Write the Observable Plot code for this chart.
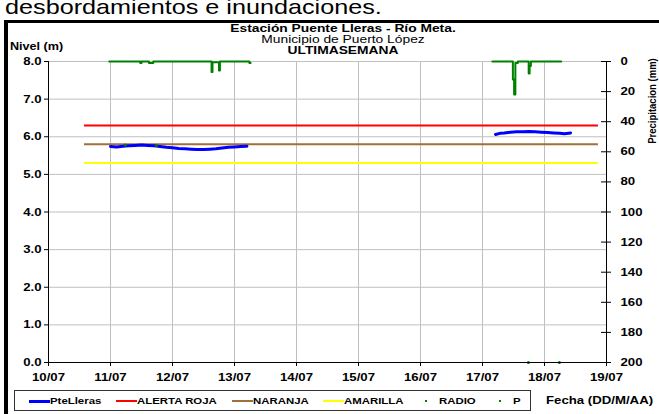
<!DOCTYPE html>
<html>
<head>
<meta charset="utf-8">
<script src="https://cdn.jsdelivr.net/npm/d3@7"></script>
<script src="https://cdn.jsdelivr.net/npm/@observablehq/plot@0.6"></script>
<style>
  body { margin: 0; background: #fff; }
  #wrap { position: relative; width: 659px; height: 414px; overflow: hidden; background: #fff; font-family: "Liberation Sans", Arial, sans-serif; }
  .abs { position: absolute; white-space: nowrap; line-height: 1; }
  .b { font-weight: bold; }
  .sl { transform-origin: 0 50%; transform: scaleX(1.2); }
  .sc { transform: translateX(-50%) scaleX(1.2); }
  #chart { position: absolute; left: 0; top: 0; }
  .legend { position: absolute; left: 14px; top: 390px; width: 515px; height: 19px; border: 1px solid #333; background: #fff; font-size: 9.5px; font-weight: bold; }
  .legend .sw { position: absolute; height: 0; }
  .legend .tx { position: absolute; top: 5px; line-height: 1; transform-origin: 0 50%; transform: scaleX(1.2); white-space: nowrap; }
  .legend .dt { position: absolute; width: 2px; height: 2px; background: #008000; top: 9px; }
</style>
</head>
<body>
<div id="wrap">
  <div class="abs sl" style="left:5px;top:-4px;font-size:21px;">desbordamientos e inundaciones.</div>
  <div class="abs" style="left:4px;top:20px;width:720px;height:500px;border-left:4px solid #000;border-top:3px solid #000;"></div>
  <div id="chart"></div>
  <div class="abs b sc" style="left:343px;top:23px;font-size:11.5px;">Estación Puente Lleras - Río Meta.</div>
  <div class="abs sc" style="left:343px;top:34px;font-size:11.5px;">Municipio de Puerto López</div>
  <div class="abs b sc" style="left:343px;top:45px;font-size:11.5px;">ULTIMASEMANA</div>
  <div class="abs b sl" style="left:10px;top:41px;font-size:10.5px;">Nivel (m)</div>
  <div class="abs b" style="left:652px;top:101px;transform:translate(-50%,-50%) scaleX(1.2) rotate(-90deg);font-size:9.5px;">Precipitacion (mm)</div>
  <div class="legend" id="legend"></div>
  <div class="abs b sl" style="left:546px;top:395px;font-size:11px;">Fecha (DD/M/AA)</div>
</div>
<script>
// ---- data ----
const dayTicks = [10, 11, 12, 13, 14, 15, 16, 17, 18, 19];         // day of July
const levelTicks = [0, 1, 2, 3, 4, 5, 6, 7, 8];                      // Nivel (m)
const precipTicks = [0, 20, 40, 60, 80, 100, 120, 140, 160, 180, 200]; // Precipitacion (mm)

// PteLleras water level (day of July, metres); null = gap in record
const pteDay = [11.0, 11.1, 11.2, 11.3, 11.4, 11.5, 11.6, 11.7, 11.8, 11.9, 12.0, 12.1, 12.2, 12.3, 12.4, 12.5, 12.6, 12.7, 12.8, 12.9, 13.0, 13.1, 13.2,
                13.5,
                17.21, 17.28, 17.35, 17.45, 17.55, 17.65, 17.75, 17.85, 17.95, 18.05, 18.15, 18.25, 18.32, 18.42];
const pteLevel = [5.74, 5.73, 5.75, 5.76, 5.77, 5.78, 5.77, 5.76, 5.74, 5.72, 5.71, 5.69, 5.68, 5.67, 5.66, 5.66, 5.67, 5.68, 5.70, 5.72, 5.73, 5.74, 5.75,
                  null,
                  6.06, 6.09, 6.10, 6.12, 6.13, 6.13, 6.14, 6.13, 6.12, 6.11, 6.10, 6.09, 6.08, 6.10];

// alert thresholds
const thresholdNames = ["ALERTA ROJA", "NARANJA", "AMARILLA"];
const thresholdLevels = [6.3, 5.8, 5.3];
const thresholdColors = ["#ff0000", "#a0703c", "#ffff00"];
const thresholdFrom = 10.58, thresholdTo = 18.87;

// precipitation P (day of July, mm); null = gap
const precipDay = [10.98, 11.46, 11.48, 11.50, 11.60, 11.62, 11.67, 11.69, 12.62, 12.63, 12.645, 12.74, 12.75, 12.765, 13.22, 13.24, 13.26,
                   15.0,
                   17.16, 17.475, 17.49, 17.51, 17.53, 17.55, 17.57, 17.73, 17.745, 17.76, 17.78, 18.27];
const precipMm = [0, 0, 1, 0, 0, 1, 1, 0, 0, 7, 0.5, 0.5, 6, 0, 0, 1, 1,
                  null,
                  0, 0, 12, 22, 1, 1, 0, 0, 8, 3, 0, 0];

// RADIO readings
const radioDay = [11.24, 11.74, 17.74, 18.24];
const radioLevel = [5.78, 5.77, 0, 0];

// ---- build tables ----
const pte = pteDay.map((d, i) => ({day: d, level: pteLevel[i]}));
const thresholds = thresholdNames.map((n, i) => ({name: n, level: thresholdLevels[i], color: thresholdColors[i]}));
const maxLevel = 8, maxPrecip = 200;
const toLevel = mm => maxLevel - mm * maxLevel / maxPrecip;   // inverted right axis
const precip = precipDay.map((d, i) => ({day: d, mm: precipMm[i]}));
const radio = radioDay.map((d, i) => ({day: d, level: radioLevel[i]}));

const chart = Plot.plot({
  width: 659,
  height: 395,
  marginLeft: 48,
  marginRight: 53,
  marginTop: 61,
  marginBottom: 33,
  x: {domain: [10, 19], label: null},
  y: {domain: [0, 8], label: null},
  style: {fontFamily: "'Liberation Sans', Arial, sans-serif", fontSize: "11px", fontWeight: "bold", background: "transparent", color: "#000", overflow: "visible"},
  marks: [
    Plot.gridX(dayTicks.slice(1, -1), {stroke: "#c0c0c0", strokeOpacity: 1}),
    Plot.gridY(levelTicks.slice(1), {stroke: "#c0c0c0", strokeOpacity: 1}),
    Plot.ruleY(thresholds, {y: "level", x1: thresholdFrom, x2: thresholdTo, stroke: "color", strokeWidth: 2}),
    Plot.line(pte, {x: "day", y: "level", stroke: "#0000ff", strokeWidth: 3, defined: d => d.level != null}),
    Plot.line(precip, {x: "day", y: d => d.mm == null ? NaN : toLevel(d.mm), stroke: "#008000", strokeWidth: 2, curve: "step-after"}),
    Plot.dot(radio, {x: "day", y: "level", r: 1.5, fill: "#008000", stroke: null}),
    Plot.ruleX([10, 19], {stroke: "#000"}),
    Plot.ruleY([0], {stroke: "#000"}),
    Plot.axisY(levelTicks, {tickFormat: d => d.toFixed(1), tickSize: 4, tickPadding: 3}),
    Plot.axisX(dayTicks, {tickFormat: d => String(d).padStart(2, "0") + "/07", tickSize: 4, tickPadding: 7}),
    Plot.ruleY(precipTicks.map(toLevel), {x1: 19, x2: 19, insetLeft: -5, insetRight: -5, stroke: "#000"}),
    Plot.axisY(precipTicks.map(toLevel), {anchor: "right", tickSize: 0, tickPadding: 14, tickFormat: d => String(Math.round((maxLevel - d) * maxPrecip / maxLevel))})
  ]
});
// widen tick labels horizontally like the source image
chart.querySelectorAll("text").forEach(t => {
  const tr = t.getAttribute("transform");
  if (tr) t.setAttribute("transform", tr + " scale(1.2,1)");
});
document.getElementById("chart").appendChild(chart);

// legend
const legendItems = [
  {label: "PteLleras", color: "#0000ff", w: 3, x: 14},
  {label: "ALERTA ROJA", color: "#ff0000", w: 2, x: 101},
  {label: "NARANJA", color: "#a0703c", w: 2, x: 217},
  {label: "AMARILLA", color: "#ffff00", w: 2, x: 308}
];
const leg = document.getElementById("legend");
legendItems.forEach(it => {
  const s = document.createElement("div");
  s.className = "sw";
  s.style.left = it.x + "px"; s.style.width = "21px"; s.style.top = (10 - it.w / 2) + "px";
  s.style.borderTop = it.w + "px solid " + it.color;
  leg.appendChild(s);
  const t = document.createElement("div");
  t.className = "tx"; t.style.left = (it.x + 21) + "px"; t.textContent = it.label;
  leg.appendChild(t);
});
[{label: "RADIO", x: 410}, {label: "P", x: 484}].forEach(it => {
  const d = document.createElement("div");
  d.className = "dt"; d.style.left = it.x + "px"; leg.appendChild(d);
  const t = document.createElement("div");
  t.className = "tx"; t.style.left = (it.x + 14) + "px"; t.textContent = it.label;
  leg.appendChild(t);
});
</script>
</body>
</html>
